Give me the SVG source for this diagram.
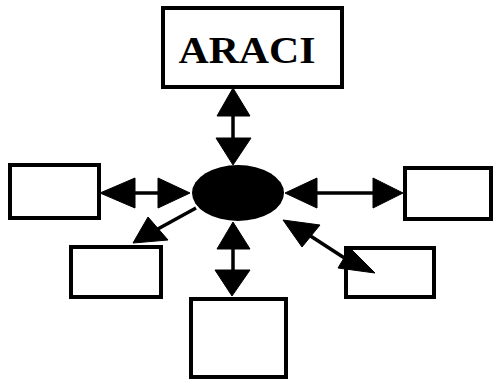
<svg xmlns="http://www.w3.org/2000/svg" width="493" height="384" viewBox="0 0 493 384">
<style>
.box{fill:#fff;stroke:#000;stroke-width:4}
.head{fill:#000;stroke:#000;stroke-width:1;stroke-linejoin:round}
.ln{stroke:#000;stroke-width:3.5;fill:none}
.lbl{font-family:"Liberation Serif","Times New Roman",serif;font-weight:bold;font-size:38px;fill:#000}
</style>
<rect width="493" height="384" fill="#fff"/>
<g id="araci">
<rect class="box" x="163" y="8" width="179" height="79"/>
<text class="lbl" x="247" y="63" text-anchor="middle" textLength="137" lengthAdjust="spacingAndGlyphs">ARACI</text>
</g>
<g id="center"><ellipse cx="238" cy="193" rx="46" ry="28" fill="#000"/></g>
<g id="left"><rect class="box" x="10" y="165" width="89" height="53"/></g>
<g id="right"><rect class="box" x="405" y="168" width="86" height="51"/></g>
<g id="lowerleft"><rect class="box" x="71" y="247" width="90" height="50"/></g>
<g id="lowerright"><rect class="box" x="346" y="248" width="88" height="49"/></g>
<g id="bottom"><rect class="box" x="191" y="299" width="95" height="78"/></g>
<g id="connectors">
<line class="ln" x1="233" y1="114" x2="233" y2="140"/>
<polygon class="head" points="233,88 217,116 250,116"/>
<polygon class="head" points="216,138 251,138 233,165"/>
<line class="ln" x1="133" y1="193" x2="160" y2="193"/>
<polygon class="head" points="100,193 135,178 135,208"/>
<polygon class="head" points="158,178 158,208 190,193"/>
<line class="ln" x1="315" y1="193" x2="375" y2="193"/>
<polygon class="head" points="285,193 317,178 317,208"/>
<polygon class="head" points="373,178 373,208 403,193"/>
<line class="ln" x1="233" y1="247" x2="233" y2="272"/>
<polygon class="head" points="233,222 217,249 250,249"/>
<polygon class="head" points="215,270 250,270 232,296"/>
<line class="ln" x1="196" y1="208" x2="156" y2="230"/>
<polygon class="head" points="148,217 168,240 133,243"/>
<line class="ln" x1="309" y1="235" x2="346" y2="259"/>
<polygon class="head" points="283,220 320,225 302,247"/>
<polygon class="head" points="350,248 338,268 375,273"/>
</g>
</svg>
